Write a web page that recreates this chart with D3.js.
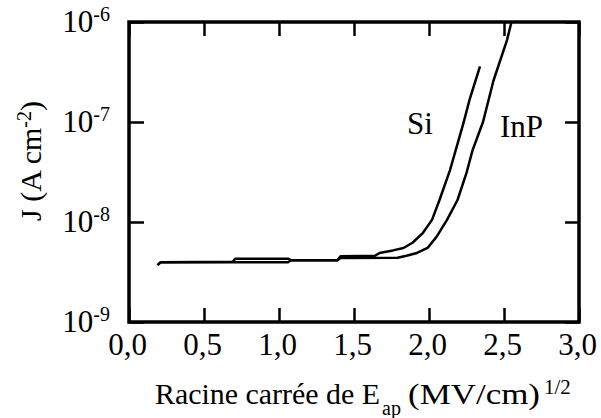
<!DOCTYPE html>
<html>
<head>
<meta charset="utf-8">
<script src="https://cdn.jsdelivr.net/npm/d3@7"></script>
<style>
  html, body { margin: 0; padding: 0; background: #fff; }
  svg { display: block; }
  svg text { font-family: "Liberation Serif", "Times New Roman", Times, serif; }
</style>
</head>
<body>
<svg id="chart" width="601" height="418"></svg>
<script>
// ---- data ----
const xTicks = [0, 0.5, 1.0, 1.5, 2.0, 2.5, 3.0];
const yTicks = [1e-9, 1e-8, 1e-7, 1e-6];
const yTickExponents = ["-9", "-8", "-7", "-6"];

const siX = [0.19, 0.21, 0.69, 0.71, 1.06, 1.08, 1.39, 1.41, 1.64, 1.67, 1.76, 1.83, 1.89, 1.96, 2.02, 2.07, 2.14, 2.23, 2.27, 2.34];
const siJ = [3.7e-9, 3.95e-9, 4.0e-9, 4.3e-9, 4.3e-9, 4.15e-9, 4.15e-9, 4.55e-9, 4.6e-9, 4.9e-9, 5.2e-9, 5.5e-9, 6.2e-9, 7.8e-9, 1.05e-8, 1.66e-8, 3.3e-8, 9.8e-8, 1.66e-7, 3.6e-7];

const inpX = [0.19, 0.21, 1.06, 1.08, 1.39, 1.41, 1.79, 1.85, 1.92, 1.99, 2.05, 2.12, 2.19, 2.25, 2.29, 2.36, 2.43, 2.52, 2.55];
const inpJ = [3.7e-9, 3.95e-9, 3.95e-9, 4.15e-9, 4.15e-9, 4.37e-9, 4.4e-9, 4.6e-9, 4.9e-9, 5.5e-9, 7.1e-9, 1.05e-8, 1.66e-8, 3.1e-8, 5.2e-8, 1.0e-7, 2.6e-7, 6.6e-7, 1.0e-6];

const seriesNames = ["Si", "InP"];

// ---- layout ----
const FONT = '"Liberation Serif", "Times New Roman", Times, serif';
const svg = d3.select("#chart");
const mLeft = 129, mRight = 579, mTop = 22, mBottom = 322;
const x = d3.scaleLinear().domain([0, 3]).range([mLeft, mRight]);
const y = d3.scaleLog().domain([1e-9, 1e-6]).range([mBottom, mTop]);

const fr = d3.formatLocale({decimal: ",", thousands: " ", grouping: [3], currency: ["", ""]});
const fmt = fr.format(".1f");
const FS = 30;

function styleText(sel, size) {
  return sel.style("font-family", FONT).style("font-size", size + "px").attr("fill", "#000");
}

// bottom axis
const gx = svg.append("g").attr("transform", `translate(0,${mBottom})`)
  .call(d3.axisBottom(x).tickValues(xTicks).tickSizeInner(-14).tickSizeOuter(0).tickPadding(12).tickFormat(fmt));
gx.attr("font-family", null).attr("font-size", null);
gx.select(".domain").remove();
gx.selectAll("line").attr("stroke", "#000").attr("stroke-width", 2.5);
styleText(gx.selectAll("text"), 31).attr("dy", "0.69em").attr("x", -2);

// top axis
const gt = svg.append("g").attr("transform", `translate(0,${mTop})`)
  .call(d3.axisTop(x).tickValues(xTicks).tickSizeInner(-14).tickSizeOuter(0).tickFormat(""));
gt.select(".domain").remove();
gt.selectAll("line").attr("stroke", "#000").attr("stroke-width", 2.5);

// left axis
const gy = svg.append("g").attr("transform", `translate(${mLeft},0)`)
  .call(d3.axisLeft(y).tickValues(yTicks).tickSizeInner(-15).tickSizeOuter(0).tickPadding(19).tickFormat(() => ""));
gy.attr("font-family", null).attr("font-size", null);
gy.select(".domain").remove();
gy.selectAll("line").attr("stroke", "#000").attr("stroke-width", 2.5);
gy.selectAll(".tick text").each(function(d) {
  const t = styleText(d3.select(this).text(null), 31).attr("dy", 9).attr("text-anchor", "end");
  t.append("tspan").text("10");
  t.append("tspan").style("font-size", "20px").attr("dy", -11).text(yTickExponents[yTicks.indexOf(d)]);
});

// right axis
const gr = svg.append("g").attr("transform", `translate(${mRight},0)`)
  .call(d3.axisRight(y).tickValues(yTicks).tickSizeInner(-14).tickSizeOuter(0).tickFormat(""));
gr.select(".domain").remove();
gr.selectAll("line").attr("stroke", "#000").attr("stroke-width", 2.5);

// frame
svg.append("rect").attr("x", mLeft).attr("y", mTop).attr("width", mRight - mLeft).attr("height", mBottom - mTop)
  .attr("fill", "none").attr("stroke", "#000").attr("stroke-width", 3.5);

// curves
const line = d3.line().x(d => x(d[0])).y(d => y(d[1]));
const siData = siX.map((v, i) => [v, siJ[i]]);
const inpData = inpX.map((v, i) => [v, inpJ[i]]);
[siData, inpData].forEach(data => {
  svg.append("path").datum(data).attr("d", line)
    .attr("fill", "none").attr("stroke", "#000").attr("stroke-width", 2.5).attr("stroke-linejoin", "round");
});

// series labels
styleText(svg.append("text"), 31).attr("x", 407).attr("y", 134).text(seriesNames[0]);
styleText(svg.append("text"), 31).attr("x", 500).attr("y", 137).text(seriesNames[1]);

// x title
const xt = styleText(svg.append("text"), FS).attr("y", 404);
xt.append("tspan").attr("x", 155).attr("textLength", 225).attr("lengthAdjust", "spacingAndGlyphs").text("Racine carrée de E");
xt.append("tspan").attr("x", 382).style("font-size", "20px").attr("dy", 11).text("ap");
xt.append("tspan").attr("x", 408).attr("dy", -11).attr("textLength", 132).attr("lengthAdjust", "spacingAndGlyphs").text("(MV/cm)");
xt.append("tspan").attr("x", 544).style("font-size", "21px").attr("dy", -10).text("1/2");

// y title
const yt = styleText(svg.append("text"), FS).attr("transform", "translate(41,161) rotate(-90)")
  .attr("text-anchor", "middle");
yt.append("tspan").text("J (A cm");
yt.append("tspan").style("font-size", "20px").attr("dy", -10).text("-2");
yt.append("tspan").attr("dy", 10).text(")");
</script>
</body>
</html>
